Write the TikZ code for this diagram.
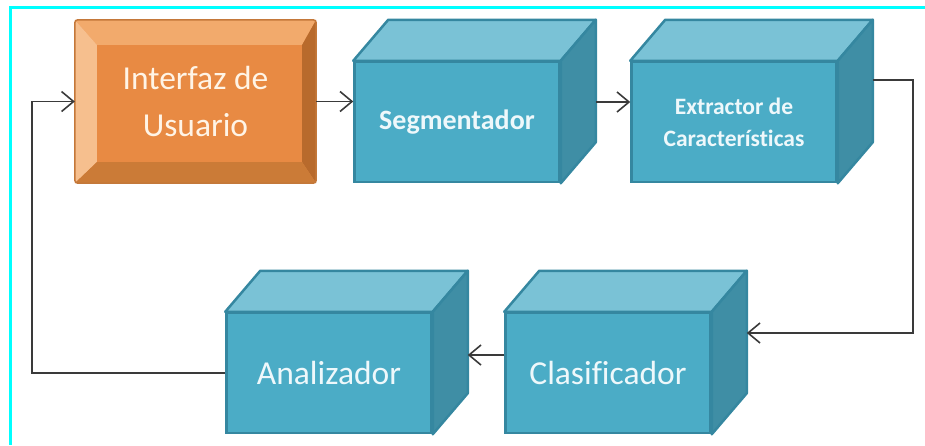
\documentclass[tikz,border=0pt]{standalone}
\usepackage{fontspec}
\setmainfont{Carlito}[Ligatures=NoCommon]
\usetikzlibrary{arrows.meta,calc}

\definecolor{framecyan}{HTML}{00FFFF}
\definecolor{boxfront}{HTML}{4BACC6}
\definecolor{boxtop}{HTML}{7AC2D6}
\definecolor{boxside}{HTML}{3F8EA5}
\definecolor{boxline}{HTML}{3587A0}
\definecolor{boxtext}{HTML}{EEF8FB}
\definecolor{ormid}{HTML}{E88A43}
\definecolor{ortop}{HTML}{F2AA6C}
\definecolor{orleft}{HTML}{F6BF8E}
\definecolor{orright}{HTML}{B86A2C}
\definecolor{orbottom}{HTML}{CB7B37}
\definecolor{orline}{HTML}{C4783A}
\definecolor{ortext}{HTML}{FFF4E6}
\definecolor{flowgray}{HTML}{3A3A3A}

\begin{document}
\begin{tikzpicture}[x=1pt, y=-1pt,
    box/.style={draw=boxline, line width=2.5pt, fill=boxfront, minimum width=205pt, minimum height=120pt, text=boxtext, align=center},
    topface/.style={draw=boxline, line width=2.5pt, fill=boxtop, line join=round},
    sideface/.style={draw=boxline, line width=2.5pt, fill=boxside, line join=round},
    flow/.style={draw=flowgray, line width=1.8pt, -{Straight Barb[length=12pt,width=20pt,line width=1.6pt]}}]
    \useasboundingbox (0,0) rectangle (925,445);

    % Frame
    \draw[framecyan, line width=3pt] (10,445) -- (10,7) -- (925,7);

    % User interface (bevelled)
    \node[fill=ormid, rounded corners=3pt, minimum width=241pt, minimum height=163pt, text=ortext, align=center, font=\fontsize{33.5}{47}\selectfont] (iu) at (195.5,101.5) {Interfaz de\\Usuario};
    \fill[ortop] (iu.north west) -- (iu.north east) -- ([shift={(-14,25)}]iu.north east) -- ([shift={(22,25)}]iu.north west) -- cycle;
    \fill[orleft] (iu.north west) -- ([shift={(22,25)}]iu.north west) -- ([shift={(22,-21)}]iu.south west) -- (iu.south west) -- cycle;
    \fill[orright] (iu.north east) -- ([shift={(-14,25)}]iu.north east) -- ([shift={(-14,-21)}]iu.south east) -- (iu.south east) -- cycle;
    \fill[orbottom] (iu.south west) -- ([shift={(22,-21)}]iu.south west) -- ([shift={(-14,-21)}]iu.south east) -- (iu.south east) -- cycle;
    \draw[orline, line width=1.5pt, rounded corners=3pt] (iu.north west) rectangle (iu.south east);

    % Blocks
    \node[box, font=\bfseries\fontsize{28}{34}\selectfont] (seg) at (457,122) {Segmentador};
    \node[box, font=\bfseries\fontsize{23.5}{32}\selectfont] (ext) at (734,122) {Extractor de\\Características};
    \node[box, font=\fontsize{33.5}{40}\selectfont] (ana) at (329,373) {Analizador};
    \node[box, font=\fontsize{33.5}{40}\selectfont] (cla) at (608,373) {Clasificador};

    % Top and side faces
    \foreach \n in {seg,ext,ana,cla}{
        \filldraw[topface] (\n.north west) -- ([shift={(35,-41)}]\n.north west) -- ([shift={(35,-41)}]\n.north east) -- (\n.north east) -- cycle;
        \filldraw[sideface] (\n.north east) -- ([shift={(35,-41)}]\n.north east) -- ([shift={(35,-41)}]\n.south east) -- (\n.south east) -- cycle;
    }

    % Connectors
    \draw[flow] (iu.east) -- (iu.east -| seg.west);
    \draw[flow] ([shift={(35,-20)}]seg.east) -- ([shift={(0,-20)}]ext.west);
    \draw[flow] ([shift={(35,-42)}]ext.east) -- ++(40,0) |- ([shift={(35,-40)}]cla.east);
    \draw[flow] ([shift={(0,-18)}]cla.west) -- ([shift={(35,-18)}]ana.east);
    \draw[flow] (ana.west) -- ++(-193,0) |- (iu.west);
\end{tikzpicture}
\end{document}
